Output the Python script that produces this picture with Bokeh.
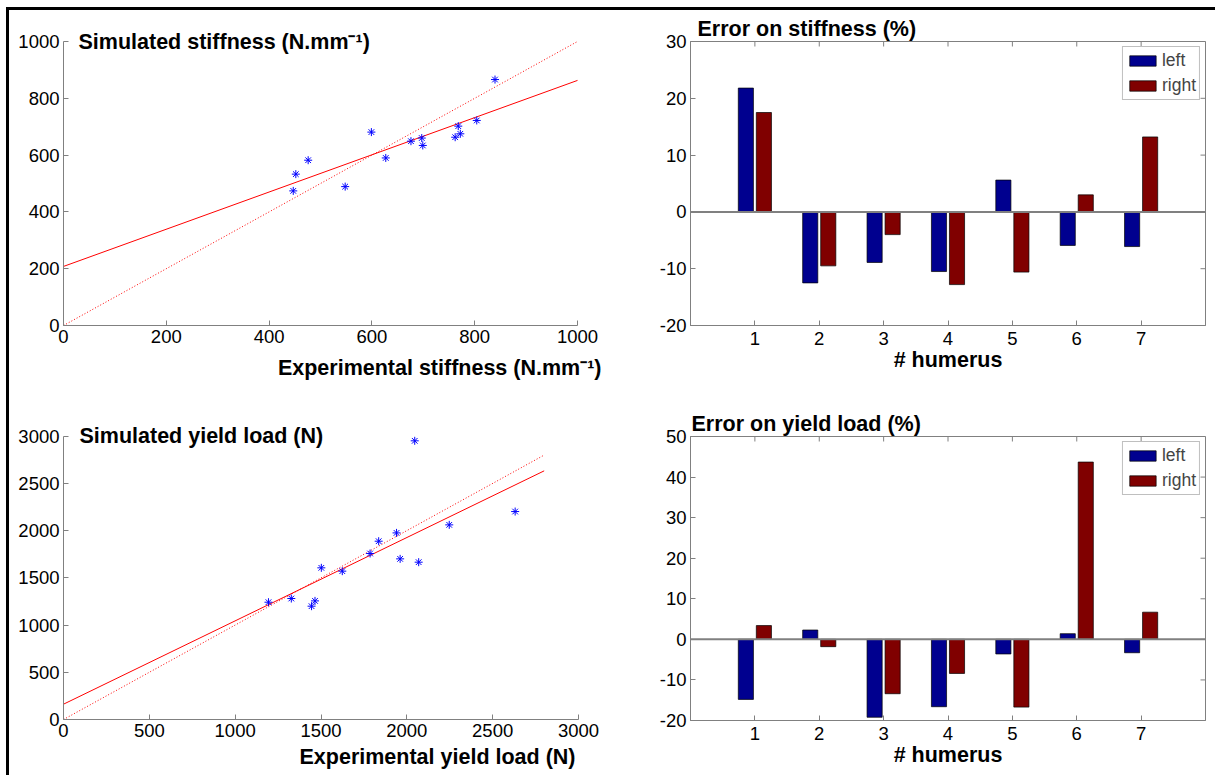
import math
from bokeh.plotting import figure
from bokeh.models import (Range1d, FixedTicker, Label, Span, Legend, LegendItem,
                          ColumnDataSource, Title, Div)
from bokeh.layouts import row, column
from bokeh.transform import dodge
from bokeh.embed import file_html
from bokeh.resources import INLINE

# ---------------- data ----------------
stiff_exp = [839.5, 599, 676, 697, 699, 627, 768, 762, 772, 804, 476, 452, 447, 548]
stiff_sim = [866, 681, 649, 660, 634, 590, 702, 663, 675, 722, 582, 533, 474, 489]
stiff_fit_x = [0, 1000]
stiff_fit_y = [208, 863]
stiff_id_x = [0, 1000]
stiff_id_y = [0, 1000]

yield_exp = [2046, 2631, 2247, 1940, 1836, 1786, 1961, 2069, 1502, 1624, 1194, 1327, 1445, 1465]
yield_sim = [2951, 2202, 2061, 1976, 1888, 1758, 1701, 1666, 1606, 1571, 1242, 1281, 1200, 1256]
yield_fit_x = [0, 2800]
yield_fit_y = [162, 2633]
yield_id_x = [0, 2800]
yield_id_y = [0, 2800]

humerus = [1, 2, 3, 4, 5, 6, 7]
stiff_err_left = [21.8, -12.5, -8.9, -10.5, 5.6, -5.9, -6.1]
stiff_err_right = [17.5, -9.5, -4.0, -12.8, -10.6, 3.0, 13.2]
yield_err_left = [-14.8, 2.3, -19.2, -16.6, -3.6, 1.4, -3.3]
yield_err_right = [3.4, -1.8, -13.4, -8.4, -16.7, 43.7, 6.7]

stiff_ticks = [0, 200, 400, 600, 800, 1000]
yield_ticks = [0, 500, 1000, 1500, 2000, 2500, 3000]
stiff_err_ticks = [-20, -10, 0, 10, 20, 30]
yield_err_ticks = [-20, -10, 0, 10, 20, 30, 40, 50]

FONT = "Liberation Sans"
TICK_SIZE = "18.5px"
BOLD_SIZE = "21.5px"
GRAY = "#808080"
BLUE_BAR = "#00008F"
RED_BAR = "#800000"


def style_axis(ax, ticks):
    ax.ticker = FixedTicker(ticks=ticks)
    ax.major_label_overrides = {t: str(t) for t in ticks}
    ax.axis_line_color = GRAY
    ax.major_tick_line_color = GRAY
    ax.major_tick_in = 5
    ax.major_tick_out = 0
    ax.minor_tick_line_color = None
    ax.major_label_text_font = FONT
    ax.major_label_text_color = "black"
    ax.major_label_text_font_size = TICK_SIZE
    ax.major_label_standoff = 4


def base_figure(width, height, xr, yr, mb, outline, xticks, yticks):
    p = figure(width=width, height=height, output_backend="svg", toolbar_location=None,
               title=None, x_range=xr, y_range=yr,
               min_border_left=mb[0], min_border_right=mb[1],
               min_border_top=mb[2], min_border_bottom=mb[3])
    p.xgrid.visible = False
    p.ygrid.visible = False
    p.outline_line_color = outline
    p.background_fill_color = "white"
    p.border_fill_color = "white"
    style_axis(p.xaxis[0], xticks)
    style_axis(p.yaxis[0], yticks)
    return p


def scatter_panel(xs, ys, fx, fy, ix, iy, vmax, ticks, width, height, mb,
                  x_end, y_end, title, title_off, xlabel, xlabel_off, xlabel_standoff):
    p = base_figure(width, height, Range1d(0, x_end), Range1d(0, y_end), mb, None, ticks, ticks)
    p.xaxis[0].bounds = (0, vmax)
    p.yaxis[0].bounds = (0, vmax)
    p.line(fx, fy, line_color="#FF0000", line_width=1)
    p.line(ix, iy, line_color="#FF0000", line_width=1, line_dash="1 2")
    p.scatter(xs, ys, marker="asterisk", size=8, line_color="#0000FF", line_width=1)
    p.add_layout(Label(x=0, y=vmax, x_offset=title_off[0], y_offset=title_off[1], text=title,
                       text_font=FONT, text_font_style="bold", text_font_size=BOLD_SIZE,
                       text_color="black", text_align="left", text_baseline="middle"))
    p.add_layout(Title(text=xlabel, align="right", offset=xlabel_off, standoff=xlabel_standoff,
                       text_font=FONT, text_font_style="bold", text_font_size=BOLD_SIZE,
                       text_color="black"), "below")
    return p


def bar_panel(left, right, ymin, ymax, ticks, width, height, mb, title, title_off):
    p = base_figure(width, height, Range1d(0, 8), Range1d(ymin, ymax), mb, GRAY, humerus, ticks)
    p.xaxis[0].major_label_standoff = 6
    p.xaxis[0].axis_label = "# humerus"
    p.xaxis[0].axis_label_text_font = FONT
    p.xaxis[0].axis_label_text_font_style = "bold"
    p.xaxis[0].axis_label_text_font_size = BOLD_SIZE
    p.xaxis[0].axis_label_text_color = "black"
    p.xaxis[0].axis_label_standoff = 0

    # inner tick marks on the top and right edges of the box (outer half is clipped)
    p.scatter(humerus, [ymax] * len(humerus), marker="dash", angle=math.pi / 2, size=10,
              line_color=GRAY, line_width=1)
    p.scatter([8] * len(ticks), ticks, marker="dash", size=10, line_color=GRAY, line_width=1)

    p.add_layout(Span(location=0, dimension="width", line_color=GRAY, line_width=2))
    src = ColumnDataSource(dict(x=humerus, left=left, right=right))
    r1 = p.vbar(x=dodge("x", -0.14, range=p.x_range), top="left", bottom=0, width=0.235,
                source=src, fill_color=BLUE_BAR, line_color="black", line_width=0.7)
    r2 = p.vbar(x=dodge("x", 0.14, range=p.x_range), top="right", bottom=0, width=0.235,
                source=src, fill_color=RED_BAR, line_color="black", line_width=0.7)
    leg = Legend(items=[LegendItem(label="left", renderers=[r1]),
                        LegendItem(label="right", renderers=[r2])],
                 location="top_right")
    leg.glyph_width = 33
    leg.glyph_height = 13
    leg.label_text_font = FONT
    leg.label_text_font_size = "17.5px"
    leg.label_standoff = 3
    leg.label_height = 13
    leg.spacing = 4
    leg.padding = 3
    leg.margin = 5
    leg.border_line_color = GRAY
    leg.border_line_width = 1
    leg.background_fill_color = "white"
    leg.background_fill_alpha = 1
    p.add_layout(leg)

    p.add_layout(Title(text=title, align="left", offset=title_off[0], standoff=title_off[1],
                       text_font=FONT, text_font_style="bold", text_font_size=BOLD_SIZE,
                       text_color="black"), "above")
    return p


# frame geometry (pixels) used to extend ranges so that titles fit inside the frame
tl_frame_w, tl_frame_h = 544, 300
tl_x_end = 1000 * tl_frame_w / 514.0
tl_y_end = 1000 * tl_frame_h / 284.0
bl_frame_w, bl_frame_h = 544, 299
bl_x_end = 3000 * bl_frame_w / 515.0
bl_y_end = 3000 * bl_frame_h / 283.3

p_tl = scatter_panel(stiff_exp, stiff_sim, stiff_fit_x, stiff_fit_y, stiff_id_x, stiff_id_y,
                     1000, stiff_ticks, 611, 385, (54, 13, 15, 70), tl_x_end, tl_y_end,
                     "Simulated stiffness (N.mm\u207b\u00b9)", (15, 0),
                     "Experimental stiffness (N.mm\u207b\u00b9)", 6, 16)
p_bl = scatter_panel(yield_exp, yield_sim, yield_fit_x, yield_fit_y, yield_id_x, yield_id_y,
                     3000, yield_ticks, 611, 380, (54, 13, 25, 56), bl_x_end, bl_y_end,
                     "Simulated yield load (N)", (16, 0),
                     "Experimental yield load (N)", 32, 6)
p_tr = bar_panel(stiff_err_left, stiff_err_right, -20, 30, stiff_err_ticks, 593, 385,
                 (70, 8, 31, 70), "Error on stiffness (%)", (7, 2))
p_br = bar_panel(yield_err_left, yield_err_right, -20, 50, yield_err_ticks, 593, 380,
                 (70, 8, 41, 55), "Error on yield load (%)", (1, 2))

# black frame lines along the top and left edges of the page
BAR_CSS = "position:absolute;left:0;top:0;background-color:#000000;"
top_bar = Div(text=f'<div style="{BAR_CSS}width:1209px;height:3px;"></div>',
              width=1209, height=3, margin=0, styles={"overflow": "visible"})
left_bar = Div(text=f'<div style="{BAR_CSS}width:3px;height:765px;"></div>',
               width=3, height=765, margin=0, styles={"overflow": "visible"})
grid = row(column(p_tl, p_bl), column(p_tr, p_br))
layout = column(row(top_bar), row(left_bar, grid),
                styles={"margin-left": "6px", "margin-top": "7px"})

open("out.html", "w").write(file_html(layout, INLINE))
